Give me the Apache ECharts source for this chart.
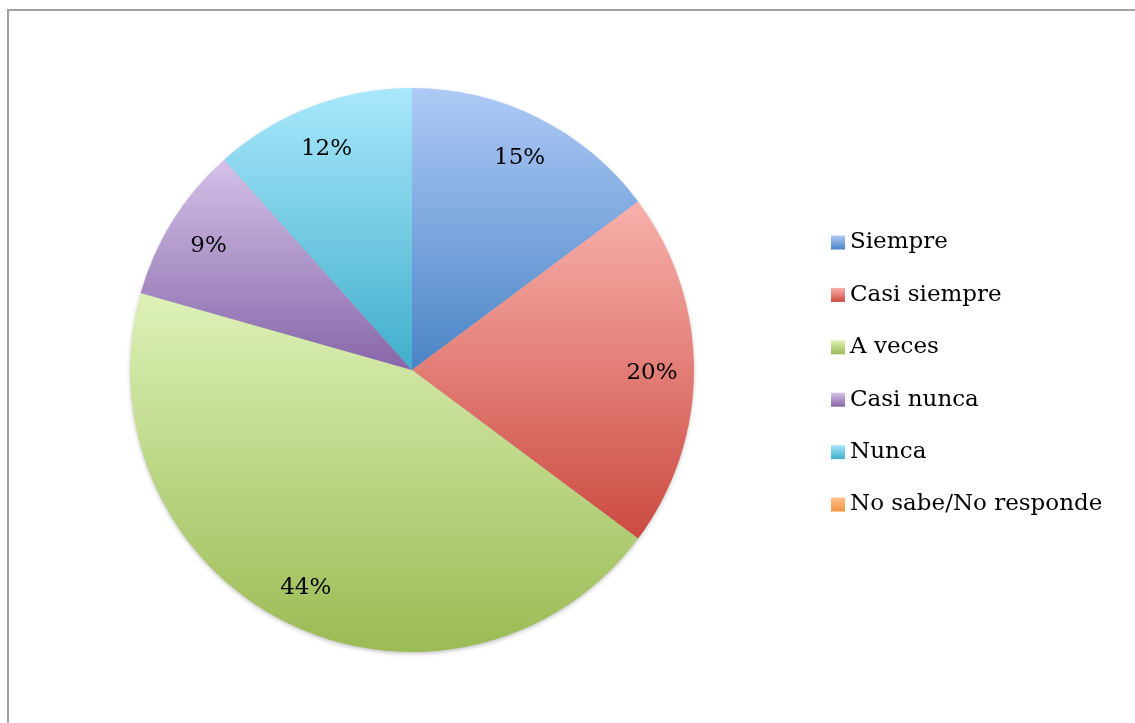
<!DOCTYPE html>
<html>
<head>
<meta charset="utf-8">
<script src="https://cdn.jsdelivr.net/npm/echarts@6/dist/echarts.min.js"></script>
<style>
html,body{margin:0;padding:0;background:#fff;}
#c{width:1135px;height:723px;}
</style>
</head>
<body>
<div id="c"></div>
<script>
const categories = ['Siempre', 'Casi siempre', 'A veces', 'Casi nunca', 'Nunca', 'No sabe/No responde'];
const values = [14.8, 20.4, 44.2, 9.0, 11.6, 0];
const lightColors = ['#aecaf6', '#f9b1ac', '#ddf1b7', '#d3c2e8', '#a9e8fc', '#fdc18f'];
const darkColors = ['#4a84c6', '#cb4a40', '#9bbb54', '#8766a9', '#40aecb', '#f59340'];

const FONT = 'DejaVu Serif';

function grad(i) {
  return new echarts.graphic.LinearGradient(0, 0, 0, 1, [
    { offset: 0, color: lightColors[i] },
    { offset: 1, color: darkColors[i] }
  ]);
}

const mainData = categories.map((n, i) => ({ name: n, value: values[i], itemStyle: { color: grad(i) } }));
const labelData = categories.map((n, i) => ({ name: 'lbl' + i, value: values[i] }));

const chart = echarts.init(document.getElementById('c'));
chart.setOption({
  animation: false,
  backgroundColor: '#fff',
  graphic: [
    { type: 'line', shape: { x1: 8, y1: 10, x2: 1135, y2: 10 }, style: { stroke: '#a0a0a0', lineWidth: 2 } },
    { type: 'line', shape: { x1: 8, y1: 9, x2: 8, y2: 723 }, style: { stroke: '#a0a0a0', lineWidth: 2 } }
  ],
  legend: {
    data: categories,
    orient: 'vertical',
    left: 831,
    top: 231,
    padding: 0,
    itemWidth: 14,
    itemHeight: 14,
    itemGap: 29.4,
    icon: 'rect',
    selectedMode: false,
    textStyle: { fontFamily: FONT, fontSize: 23, color: '#000', lineHeight: 23 }
  },
  series: [
    {
      type: 'pie',
      silent: true,
      center: [412, 370],
      radius: [0, 281],
      label: { show: false },
      labelLine: { show: false },
      data: [{ name: '_bg', value: 1, itemStyle: { color: '#b0b0b0', shadowBlur: 5, shadowColor: 'rgba(0,0,0,0.3)', shadowOffsetY: 2 } }],
      z: 1
    },
    {
      type: 'pie',
      silent: true,
      center: [412, 370],
      radius: [0, 282],
      startAngle: 90,
      clockwise: true,
      avoidLabelOverlap: false,
      label: { show: false },
      labelLine: { show: false },
      itemStyle: { borderWidth: 0 },
      data: mainData,
      z: 2
    },
    {
      type: 'pie',
      silent: true,
      center: [412, 370],
      radius: [192, 282],
      startAngle: 90,
      clockwise: true,
      avoidLabelOverlap: false,
      itemStyle: { color: 'rgba(0,0,0,0)', borderWidth: 0 },
      labelLine: { show: false },
      label: {
        show: true,
        position: 'inside',
        fontFamily: FONT,
        fontSize: 23,
        color: '#000',
        offset: [0, 3],
        formatter: p => p.value > 0 ? Math.round(p.value) + '%' : ''
      },
      data: labelData,
      z: 3
    }
  ]
});
</script>
</body>
</html>
